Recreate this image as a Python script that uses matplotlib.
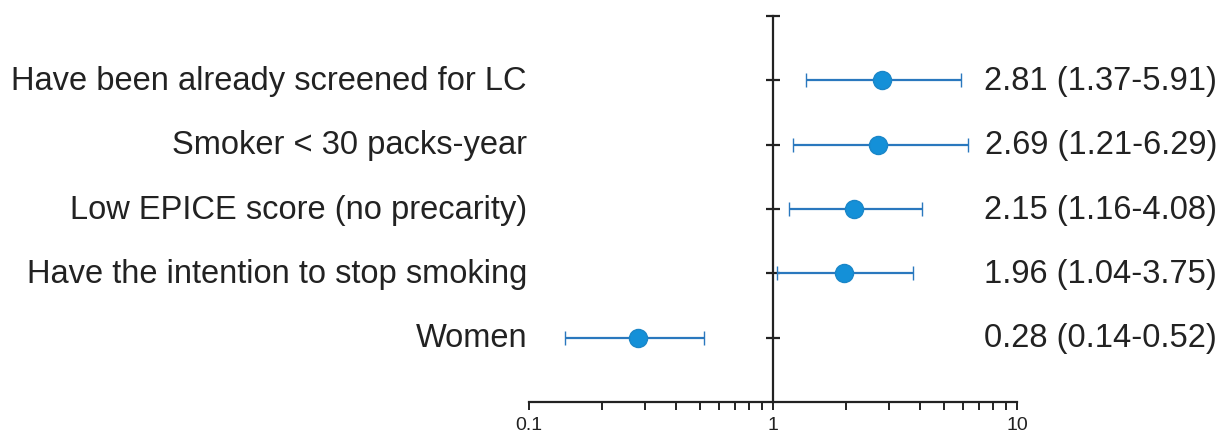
import matplotlib
matplotlib.use("Agg")
import matplotlib.pyplot as plt
from matplotlib.transforms import blended_transform_factory
from matplotlib.ticker import LogLocator, NullFormatter, FixedLocator, FixedFormatter

plt.rcParams['font.family'] = ['Liberation Sans', 'DejaVu Sans']

labels = ["Have been already screened for LC",
          "Smoker < 30 packs-year",
          "Low EPICE score (no precarity)",
          "Have the intention to stop smoking",
          "Women"]
odds = [2.81, 2.69, 2.15, 1.96, 0.28]
lower = [1.37, 1.21, 1.16, 1.04, 0.14]
upper = [5.91, 6.29, 4.08, 3.75, 0.52]
ypos = [5, 4, 3, 2, 1]
xticks = [0.1, 1, 10]
xticklabels = ["0.1", "1", "10"]

fig = plt.figure(figsize=(12.25, 4.35), dpi=100)
ax = fig.add_axes([529/1225, 1-403/435, (1017-529)/1225, (403-17)/435])

line_col = "#2a78be"
mark_col = "#1490d8"
for o, lo, up, y in zip(odds, lower, upper, ypos):
    ax.errorbar([o], [y], xerr=[[o-lo], [up-o]], fmt='o', color=line_col,
                ecolor=line_col, elinewidth=1.6, capsize=4.8, capthick=1.6,
                markersize=13, markerfacecolor=mark_col, markeredgecolor="#1a86c8",
                markeredgewidth=1.0, zorder=3)

ax.set_xscale('log')
ax.set_xlim(0.1, 10)
ax.set_ylim(0, 6)

for s in ['top', 'right']:
    ax.spines[s].set_visible(False)
ax.spines['left'].set_position(('data', 1))
ax.spines['left'].set_linewidth(1.6)
ax.spines['bottom'].set_linewidth(1.6)
ax.spines['left'].set_color('#222222')
ax.spines['bottom'].set_color('#222222')

ax.yaxis.set_major_locator(FixedLocator([1, 2, 3, 4, 5, 6]))
ax.yaxis.set_major_formatter(NullFormatter())
ax.tick_params(axis='y', direction='inout', length=10, width=1.6, color='#222222')

ax.xaxis.set_major_locator(FixedLocator(xticks))
ax.xaxis.set_major_formatter(FixedFormatter(xticklabels))
ax.xaxis.set_minor_locator(LogLocator(base=10, subs=range(2, 10)))
ax.xaxis.set_minor_formatter(NullFormatter())
ax.tick_params(axis='x', which='both', direction='out', length=6, width=1.4,
               color='#222222', labelsize=14, pad=4, labelcolor='#222222')

tr_left = blended_transform_factory(ax.transAxes, ax.transData)
for lab, y in zip(labels, ypos):
    ax.text(-0.004, y, lab, transform=tr_left, ha='right', va='center',
            fontsize=23.5, color='#222222')

tr_right = blended_transform_factory(fig.transFigure, ax.transData)
for o, lo, up, y in zip(odds, lower, upper, ypos):
    ax.text(1217/1225, y, f"{o:.2f} ({lo:.2f}-{up:.2f})", transform=tr_right,
            ha='right', va='center', fontsize=23.5, color='#222222')

fig.savefig("out.png", dpi=100)
